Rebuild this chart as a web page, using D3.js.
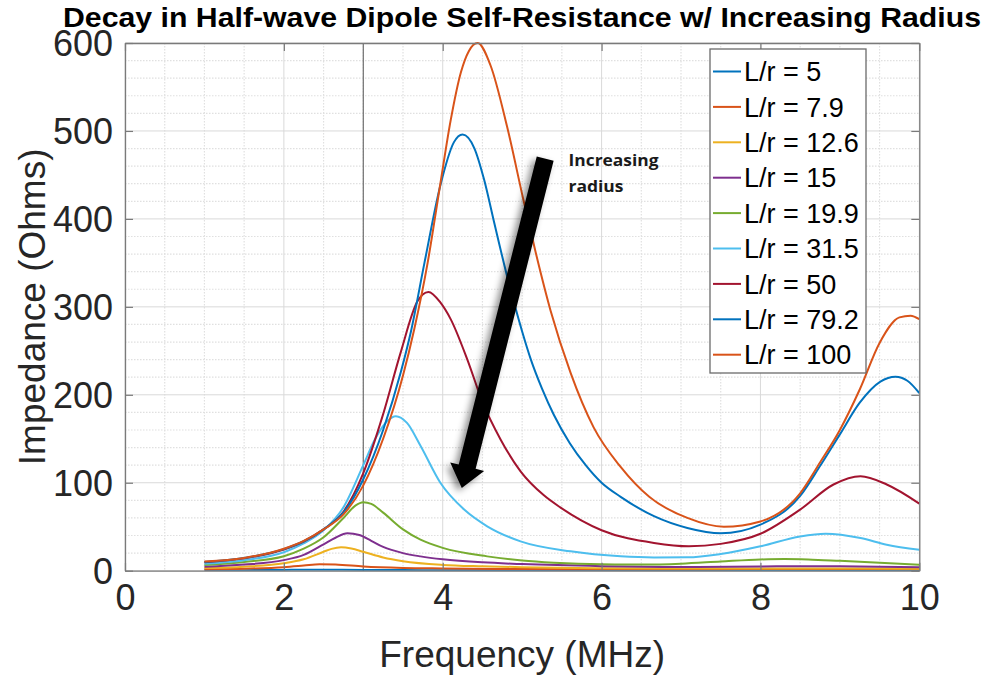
<!DOCTYPE html>
<html><head><meta charset="utf-8">
<script src="https://cdn.jsdelivr.net/npm/d3@7"></script>
<style>
body{margin:0;background:#fff;}
svg text{font-family:"Liberation Sans",Arial,Helvetica,sans-serif;}
</style>
</head><body><svg id="chart" width="988" height="679"></svg>
<script>
// ---------------- data ----------------
const seriesLabels = ["L/r = 5","L/r = 7.9","L/r = 12.6","L/r = 15","L/r = 19.9","L/r = 31.5","L/r = 50","L/r = 79.2","L/r = 100"];

const freq_5   = [1.0,1.5,2.0,2.3,2.6,3.0,3.5,4.0,5.0,6.0,7.0,8.0,9.0,10.0];
const imp_5    = [0.5,0.6,0.9,1.1,1.1,0.9,0.7,0.6,0.5,0.4,0.4,0.4,0.4,0.4];

const freq_7_9 = [1.0,1.5,2.0,2.25,2.45,2.65,3.0,3.5,4.0,5.0,6.0,7.0,8.0,9.0,10.0];
const imp_7_9  = [1.5,2.3,4.0,5.8,7.3,7.0,4.8,3.2,2.6,1.9,1.6,1.6,1.9,1.9,1.6];

const freq_12_6 = [1.0,1.5,2.0,2.25,2.5,2.6,2.72,2.85,3.0,3.25,3.5,4.0,4.5,5.0,6.0,7.0,8.0,9.0,10.0];
const imp_12_6  = [3.0,4.6,8.5,13,21.5,24.8,26.6,25.2,21.5,15,10.8,6.6,5,4,2.8,2.4,2.6,2.6,2.1];

const freq_15 = [1.0,1.5,2.0,2.25,2.5,2.65,2.8,2.95,3.1,3.25,3.5,3.72,4.0,4.5,5.0,6.0,7.0,8.0,8.5,9.0,10.0];
const imp_15  = [4.5,7,12,18,30,37.5,42.5,40.5,34,27,20,16.3,13,9.5,7.5,5.2,4.3,4.8,5.2,5.0,3.8];

const freq_19_9 = [1.0,1.5,2.0,2.25,2.5,2.75,2.9,3.0,3.1,3.25,3.5,3.72,4.0,4.56,5.0,5.4,6.0,6.5,7.0,7.5,8.0,8.3,8.6,9.0,9.5,10.0];
const imp_19_9  = [6.5,10,16.5,25,38,60,74,77.8,76,66,47,35.3,26,16.3,11.5,9,7.2,7,8,10.5,12.8,13.3,12.8,11.2,9,6.8];

const freq_31_5 = [1.0,1.5,2.0,2.25,2.5,2.75,3.0,3.15,3.3,3.41,3.55,3.72,3.97,4.27,4.56,4.98,5.61,6.24,6.66,7.08,7.5,8.0,8.5,8.82,9.26,9.59,10.0];
const imp_31_5  = [8,12,21,31,46,72,120,150,170,175.7,168,142,100,69.5,50.5,33.4,22,16.3,15,15.2,19,27.7,39,42.1,37.2,29.6,23.9];

const freq_50 = [1.0,1.5,2.0,2.25,2.5,2.75,3.0,3.25,3.47,3.68,3.82,3.97,4.1,4.31,4.5,4.73,4.98,5.27,5.48,6.0,6.66,7.1,7.5,8.0,8.5,8.92,9.26,9.59,10.0];
const imp_50  = [9.5,14,24,33,47,67,111,178,248,306,317,305,286,240,192,149,113,86,72,46,31.5,27.7,30.5,42,69.5,98,107.4,98,76.3];

const freq_79_2 = [1.0,1.5,2.0,2.25,2.5,2.75,3.0,3.25,3.47,3.6,3.77,3.97,4.14,4.25,4.4,4.52,4.65,4.81,5.0,5.11,5.25,5.4,5.6,5.8,6.0,6.24,6.66,7.08,7.5,8.0,8.5,8.75,9.0,9.25,9.51,9.7,9.85,10.0];
const imp_79_2  = [10,14.5,24.5,33.5,47,66,104,160,225,272,350,438,487,496,480,445,395,335,272,240,207,177,145,120,100,84,62,48.6,42.5,52.4,85,119,155,191,215,220.5,216,202];

const freq_100 = [1.0,1.5,2.0,2.25,2.5,2.75,3.0,3.25,3.5,3.64,3.81,3.97,4.1,4.23,4.33,4.44,4.6,4.81,5.02,5.17,5.36,5.61,5.9,6.24,6.6,7.08,7.54,8.0,8.5,8.75,9.0,9.25,9.5,9.75,9.89,10.0];
const imp_100  = [10.5,14.5,25,34,47,64,97,150,222,274,350,440,512,567,591,600,575,505,420,362,295,225,163,118,84,60,50,56,88,123,160,206,259,288,290,286];

const xTicks = [0,2,4,6,8,10];
const yTicks = [0,100,200,300,400,500,600];
const titleText = "Decay in Half-wave Dipole Self-Resistance w/ Increasing Radius";
const xLabelText = "Frequency (MHz)";
const yLabelText = "Impedance (Ohms)";
const annotationLines = ["Increasing","radius"];
const arrowTail = [5.29, 468.5];   // data units (MHz, Ohms)
const arrowTip  = [4.24, 94];
const markerLine = 3;              // dark vertical line at 3 MHz

// ---------------- layout ----------------
const palette = ["#0072BD","#D95319","#EDB120","#7E2F8E","#77AC30","#4DBEEE","#A2142F","#0072BD","#D95319"];
const freqs = [freq_5,freq_7_9,freq_12_6,freq_15,freq_19_9,freq_31_5,freq_50,freq_79_2,freq_100];
const imps  = [imp_5,imp_7_9,imp_12_6,imp_15,imp_19_9,imp_31_5,imp_50,imp_79_2,imp_100];
const series = seriesLabels.map((l,i)=>({label:l,color:palette[i],pts:freqs[i].map((f,j)=>[f,imps[i][j]])}));

const L=125, R=919.3, T=43, B=570.7;
const svg = d3.select("#chart");
const x = d3.scaleLinear().domain([0,10]).range([L,R]);
const y = d3.scaleLinear().domain([0,600]).range([B,T]);

// grid
const g = svg.append("g");
d3.range(0,10.01,0.5).forEach(v=>{
  const major = Math.abs(v%2)<1e-9;
  g.append("line").attr("x1",x(v)).attr("x2",x(v)).attr("y1",T).attr("y2",B)
   .attr("stroke",major?"#d9d9d9":"#e0e0e0").attr("stroke-width",major?1:1.2)
   .attr("stroke-dasharray",major?null:"1.5,1.5");
});
d3.range(0,600.1,20).forEach(v=>{
  const major = Math.abs(v%100)<1e-9;
  g.append("line").attr("y1",y(v)).attr("y2",y(v)).attr("x1",L).attr("x2",R)
   .attr("stroke",major?"#d9d9d9":"#e0e0e0").attr("stroke-width",major?1:1.2)
   .attr("stroke-dasharray",major?null:"1.5,1.5");
});
// dark vertical line
svg.append("line").attr("x1",x(markerLine)).attr("x2",x(markerLine)).attr("y1",T).attr("y2",B)
  .attr("stroke","#6e6e6e").attr("stroke-width",1.2);

// clip
svg.append("clipPath").attr("id","clip").append("rect").attr("x",L).attr("y",T-1).attr("width",R-L).attr("height",B-T+1);

const line = d3.line().x(d=>x(d[0])).y(d=>y(d[1])).curve(d3.curveMonotoneX);
const lg = svg.append("g").attr("clip-path","url(#clip)");
series.forEach(s=>{
  lg.append("path").attr("d",line(s.pts)).attr("fill","none").attr("stroke",s.color)
    .attr("stroke-width",2).attr("stroke-linejoin","round");
});

// axes box + ticks (inward)
const axCol="#7a7a7a";
const xAxB = d3.axisBottom(x).tickValues(xTicks).tickSizeInner(-8).tickSizeOuter(0).tickPadding(14);
const xAxT = d3.axisTop(x).tickValues(xTicks).tickSizeInner(-8).tickSizeOuter(0).tickFormat("");
const yAxL = d3.axisLeft(y).tickValues(yTicks).tickSizeInner(-8).tickSizeOuter(0).tickPadding(14);
const yAxR = d3.axisRight(y).tickValues(yTicks).tickSizeInner(-8).tickSizeOuter(0).tickFormat("");
function styleAx(sel){ sel.select(".domain").attr("stroke",axCol).attr("stroke-width",1.3);
  sel.selectAll(".tick line").attr("stroke",axCol).attr("stroke-width",1.2);
  sel.selectAll(".tick text").attr("fill","#262626").attr("font-size",36)
     .style("font-family","'Liberation Sans',Arial,sans-serif"); }
svg.append("g").attr("transform",`translate(0,${B})`).call(xAxB).call(styleAx)
   .selectAll(".tick text").attr("dy","0.71em").attr("y",14);
svg.append("g").attr("transform",`translate(0,${T})`).call(xAxT).call(styleAx);
svg.append("g").attr("transform",`translate(${L},0)`).call(yAxL).call(styleAx)
   .selectAll(".tick text").attr("x",-12).attr("dy","0.36em");
svg.append("g").attr("transform",`translate(${R},0)`).call(yAxR).call(styleAx);

// labels
svg.append("text").attr("x",(L+R)/2).attr("y",667).attr("text-anchor","middle")
  .attr("font-size",37).attr("fill","#262626").text(xLabelText);
svg.append("text").attr("transform",`translate(45,${(T+B)/2}) rotate(-90)`).attr("text-anchor","middle")
  .attr("font-size",37).attr("fill","#262626").text(yLabelText);
svg.append("text").attr("x",522).attr("y",27).attr("text-anchor","middle")
  .attr("font-size",27).attr("font-weight","bold").attr("fill","#000")
  .attr("textLength",918).attr("lengthAdjust","spacingAndGlyphs").text(titleText);

// legend
const lgX=710, lgY=49, lgW=156, lgH=324, rowH=35.4;
svg.append("rect").attr("x",lgX).attr("y",lgY).attr("width",lgW).attr("height",lgH)
  .attr("fill","#fff").attr("stroke","#6a6a6a").attr("stroke-width",1.3);
series.forEach((s,i)=>{
  const cy = lgY+22.5+i*rowH;
  svg.append("line").attr("x1",lgX+3).attr("x2",lgX+31).attr("y1",cy).attr("y2",cy)
    .attr("stroke",s.color).attr("stroke-width",2);
  svg.append("text").attr("x",lgX+34).attr("y",cy).attr("dy","0.36em").attr("font-size",27)
    .attr("fill","#000").text(s.label);
});

// arrow annotation
const defs = svg.append("defs");
const f = defs.append("filter").attr("id","shadow").attr("x","-50%").attr("y","-20%").attr("width","200%").attr("height","140%");
f.append("feDropShadow").attr("dx",-4).attr("dy",3).attr("stdDeviation",3.5).attr("flood-color","#000").attr("flood-opacity",0.45);
const p0=[x(arrowTail[0]),y(arrowTail[1])], p1=[x(arrowTip[0]),y(arrowTip[1])];
const dx=p1[0]-p0[0], dy=p1[1]-p0[1], len=Math.hypot(dx,dy);
const u=[dx/len,dy/len], n=[-u[1],u[0]];
const sw=8.7, hw=17.5, hl=22;
const base=[p1[0]-u[0]*hl,p1[1]-u[1]*hl];
const P=(pt,k)=>[pt[0]+n[0]*k,pt[1]+n[1]*k];
const poly=[P(p0,sw),P(base,sw),P(base,hw),p1,P(base,-hw),P(base,-sw),P(p0,-sw)];
svg.append("polygon").attr("points",poly.map(p=>p.join(",")).join(" "))
  .attr("fill","#000").attr("filter","url(#shadow)");
annotationLines.forEach((t,i)=>{
  svg.append("text").attr("x",568.5).attr("y",166+i*25.5)
    .style("font-family","'Open Sans','Noto Sans',sans-serif").attr("font-weight","bold")
    .attr("font-size",16).attr("fill","#1a1a1a")
    .attr("textLength",i===0?90:55).attr("lengthAdjust","spacingAndGlyphs").text(t);
});
</script>
</body></html>
